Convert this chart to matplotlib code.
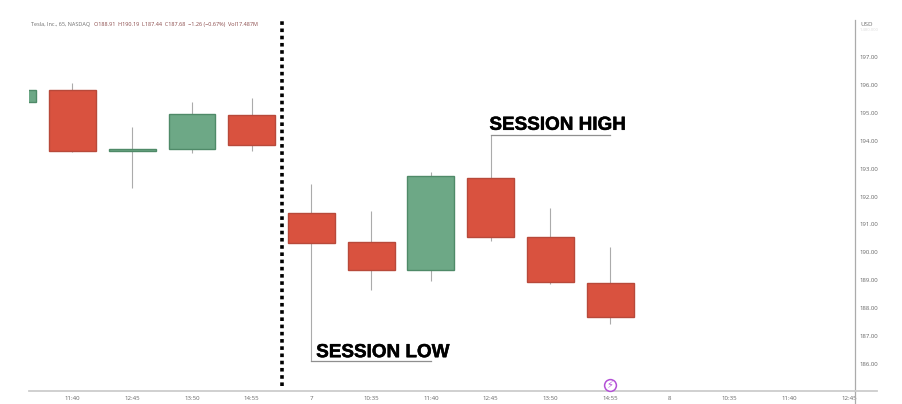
import matplotlib
matplotlib.use("Agg")
import matplotlib.pyplot as plt
import matplotlib.patheffects as pe

W, H = 903, 404
positions = [-1, 0, 1, 2, 3, 4, 5, 6, 7, 8, 9]
opens = [195.39, 195.82, 193.62, 193.70, 194.93, 191.40, 190.38, 189.38, 192.67, 190.55, 188.91]
closes = [195.82, 193.62, 193.72, 194.95, 193.85, 190.35, 189.38, 192.73, 190.55, 188.94, 187.68]
highs = [195.82, 196.08, 194.48, 195.38, 195.52, 192.44, 191.50, 192.88, 194.22, 191.58, 190.19]
lows = [195.39, 193.60, 192.32, 193.55, 193.65, 186.10, 188.65, 188.98, 190.42, 188.85, 187.44]
x_ticks = [0, 1, 2, 3, 4, 5, 6, 7, 8, 9, 10, 11, 12, 13]
x_labels = ["11:40", "12:45", "13:50", "14:55", "7", "10:35", "11:40", "12:45", "13:50", "14:55", "8", "10:35", "11:40", "12:45"]
y_ticks = [186, 187, 188, 189, 190, 191, 192, 193, 194, 195, 196, 197]
header_name = "Tesla, Inc., 65, NASDAQ"
header_vals = "O188.91  H190.19  L187.44  C187.68  \u22121.26 (\u22120.67%)  Vol17.487M"

plt.rcParams["font.family"] = ["Open Sans", "DejaVu Sans"]
fig = plt.figure(figsize=(W / 100, H / 100), dpi=100, facecolor="white")
L, R, T, B = 29, 855, 20, 391
ax = fig.add_axes([L / W, 1 - B / H, (R - L) / W, (B - T) / H])
ax.set_xlim(-0.728, 13.10)
ax.set_ylim(185.03, 198.33)
ax.set_facecolor("white")

RED, RED_E = "#D9523F", "#B8493A"
GREEN, GREEN_E = "#6DA886", "#4F8A68"
body_w = 0.785
for x, o, c, h, l in zip(positions, opens, closes, highs, lows):
    up = c >= o
    ax.vlines(x, l, h, color="#ABABAB", lw=0.8, zorder=2)
    ax.bar(x, abs(c - o), bottom=min(o, c), width=body_w, zorder=3, linewidth=1.0,
           color=GREEN if up else RED, edgecolor=GREEN_E if up else RED_E)

for s in ("top", "left"):
    ax.spines[s].set_visible(False)
ax.spines["right"].set_color("#ABABAB")
ax.spines["bottom"].set_color("#CDCDCD")
ax.spines["right"].set_linewidth(0.9)
ax.spines["bottom"].set_linewidth(1.3)
ax.yaxis.tick_right()
ax.set_xticks(x_ticks, x_labels)
ax.set_yticks(y_ticks, [f"{v:.2f}" for v in y_ticks])
ax.tick_params(length=0, labelcolor="#666666")
ax.tick_params(axis="x", pad=3.5, labelsize=4.4)
ax.tick_params(axis="y", pad=3.5, labelsize=4.3)

# extensions of the axis lines beyond the plot
fig.add_artist(plt.Line2D([R / W, R / W], [1 - 404 / H, 1 - B / H], color="#ABABAB", lw=0.9))
fig.add_artist(plt.Line2D([R / W, 877 / W], [1 - B / H, 1 - B / H], color="#CDCDCD", lw=1.3))

# session divider
ax.plot([3.5, 3.5], [185.2, 198.3], color="black", lw=2.6, ls=(0, (1, 1)), zorder=6, clip_on=False)

# session annotations
ax.plot([4, 6], [lows[5], lows[5]], color="#8F8F8F", lw=0.9, zorder=2)
ax.plot([7, 9], [highs[8], highs[8]], color="#8F8F8F", lw=0.9, zorder=2)
stroke = [pe.withStroke(linewidth=0.35, foreground="black")]
ax.text(4.08, lows[5] + 0.0, "SESSION LOW", family="Liberation Sans", fontweight="bold",
        fontsize=13.6, color="black", ha="left", va="bottom", zorder=7, path_effects=stroke)
ax.text(6.98, highs[8] + 0.03, "SESSION HIGH", family="Liberation Sans", fontweight="bold",
        fontsize=13.6, color="black", ha="left", va="bottom", zorder=7, path_effects=stroke)

# header and currency
fig.text(31 / W, 1 - 24.5 / H, header_name, fontsize=4.0, color="#6E6E6E", va="center", ha="left")
fig.text(94.5 / W, 1 - 24.5 / H, header_vals, fontsize=3.95, color="#8A4A4A", va="center", ha="left")
fig.text(860 / W, 1 - 24 / H, "USD", fontsize=4.5, color="#6E6E6E", va="center", ha="left")
fig.text(860 / W, 1 - 30 / H, "1.480.000", fontsize=3, color="#DDDDDD", va="center", ha="left")

# event marker
ax.plot([9], [185.25], marker="o", ms=8.5, mfc="white", mec="#B34FD6", mew=1.1, zorder=6, clip_on=False)
ax.text(9, 185.25, "\u26a1", fontsize=7, color="#B34FD6", ha="center", va="center",
        family="DejaVu Sans", zorder=7)

fig.savefig("out.png", dpi=100)
